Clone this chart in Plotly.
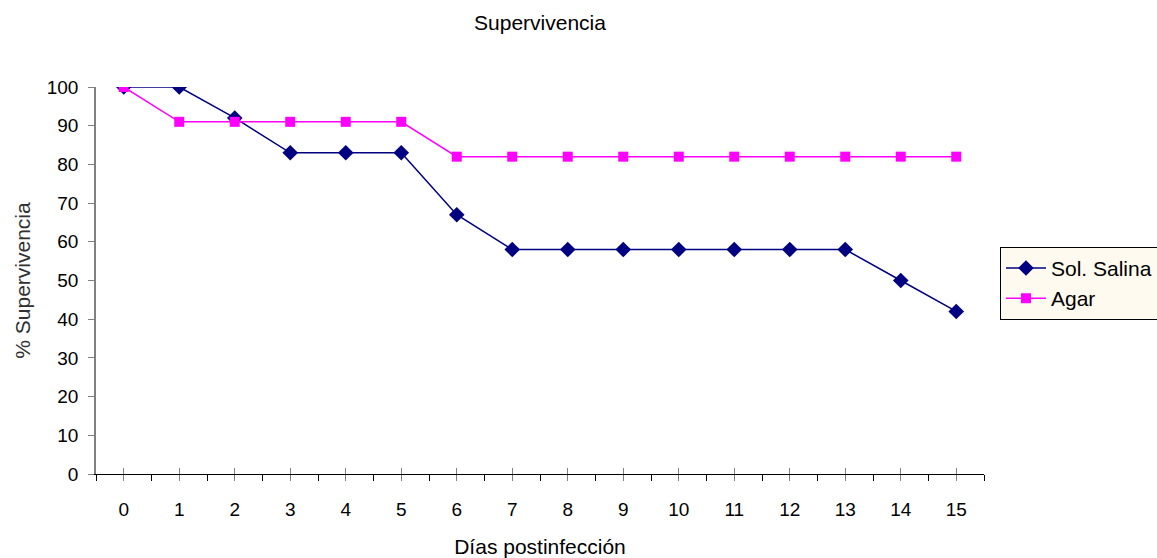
import plotly.graph_objects as go

dias = list(range(16))
sol_salina = [100, 100, 92, 83, 83, 83, 67, 58, 58, 58, 58, 58, 58, 58, 50, 42]
agar = [100, 91, 91, 91, 91, 91, 82, 82, 82, 82, 82, 82, 82, 82, 82, 82]
y_ticks = list(range(0, 101, 10))

FONT = "Liberation Sans, Arial, sans-serif"

fig = go.Figure()
fig.add_trace(go.Scatter(x=dias, y=sol_salina, name="Sol. Salina", mode="lines+markers",
                         line=dict(color="#000080", width=1.5),
                         marker=dict(symbol="diamond", size=12, color="#000080")))
fig.add_trace(go.Scatter(x=dias, y=agar, name="Agar", mode="lines+markers",
                         line=dict(color="#FF00FF", width=1.5),
                         marker=dict(symbol="square", size=10, color="#FF00FF")))

fig.update_layout(
    width=1157, height=558,
    margin=dict(l=96, r=173, t=87, b=84, autoexpand=False),
    paper_bgcolor="white", plot_bgcolor="white",
    font=dict(family=FONT, size=19, color="black"),
    title=dict(text="Supervivencia", x=0.5, xref="paper", y=0.96, yref="container",
               xanchor="center", yanchor="middle", font=dict(size=21, family=FONT)),
    xaxis=dict(range=[-0.5, 15.5], tickmode="array", tickvals=dias, ticktext=[str(d) for d in dias],
               showgrid=False, zeroline=False, showline=True, linecolor="black", linewidth=1,
               ticks="outside", ticklen=6, tickcolor="#808080", tickwidth=1,
               ticklabelstandoff=12, automargin=False,
               minor=dict(tickmode="array", tickvals=[d - 0.5 for d in dias] + [15.5],
                          ticks="outside", ticklen=6, tickcolor="black"),
               title=dict(text="Días postinfección", font=dict(size=21), standoff=22),
               tickfont=dict(size=19), fixedrange=True),
    xaxis2=dict(range=[-0.5, 15.5], overlaying="x", anchor="y", side="bottom",
                tickmode="array", tickvals=dias, showticklabels=False, automargin=False,
                ticks="inside", ticklen=6, tickcolor="#808080", showgrid=False,
                zeroline=False, showline=False),
    yaxis=dict(range=[0, 100], tickmode="array", tickvals=y_ticks, automargin=False,
               showgrid=False, zeroline=False, showline=True, linecolor="#808080", linewidth=1.5,
               ticks="outside", ticklen=6, tickcolor="#808080", ticklabelstandoff=6,
               title=dict(text="% Supervivencia", font=dict(size=21, color="#303030"), standoff=10),
               tickfont=dict(size=19)),
    legend=dict(x=1.018, y=0.587, xanchor="left", yanchor="top",
                bgcolor="#FFFAF0", bordercolor="black", borderwidth=1,
                font=dict(size=21), tracegroupgap=0, itemwidth=40),
    showlegend=True,
)
fig.add_trace(go.Scatter(x=[None], y=[None], xaxis="x2", showlegend=False, hoverinfo="skip"))

fig.write_html("out.html")
